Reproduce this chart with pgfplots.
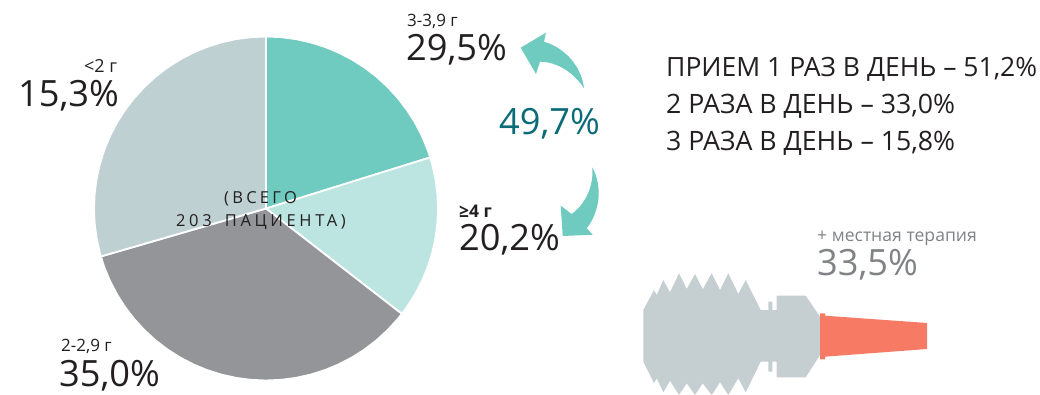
\documentclass[border=0pt]{standalone}
\usepackage{fontspec}
\setmainfont{Open Sans}
\usepackage{pgfplots}
\pgfplotsset{compat=1.18}
\usepgfplotslibrary{polar}
\definecolor{sTeal}{HTML}{6FCAC0}
\definecolor{sLight}{HTML}{BCE4E1}
\definecolor{sGrey}{HTML}{939598}
\definecolor{sPale}{HTML}{BFD0D3}
\definecolor{tube}{HTML}{C5CFD2}
\definecolor{tip}{HTML}{F77B64}
\definecolor{dTeal}{HTML}{0C6B78}
\definecolor{ink}{HTML}{231F20}
\definecolor{gText}{HTML}{808285}
\newcommand\fs[1]{\fontsize{#1}{#1}\selectfont}
\newcommand\lab[5]{\node[anchor=base west,inner sep=0pt,text=#4] at (axis cs:#1,#2) {\fs{#3}#5};}
\begin{document}
\begin{tikzpicture}[x=1pt,y=1pt]
\path[use as bounding box] (0,0) rectangle (1040,395);
% pie: values 20.2 / 15.3 / 35.0 / 29.5 (per cent), angles = 90 - 3.6*cumulative
\begin{polaraxis}[at={(266pt,186.5pt)},anchor=center,width=344pt,height=344pt,scale only axis,hide axis,clip=false,xmin=0,xmax=360,ymin=0,ymax=171]
\addplot[fill=sTeal,draw=white,line width=1.8pt] coordinates {(90,0)(90,171)(85,171)(80,171)(75,171)(70,171)(65,171)(60,171)(55,171)(50,171)(45,171)(40,171)(35,171)(30,171)(25,171)(20,171)(17.28,171)} -- cycle;
\addplot[fill=sLight,draw=white,line width=1.8pt] coordinates {(17.28,0)(17.28,171)(15,171)(10,171)(5,171)(0,171)(-5,171)(-10,171)(-15,171)(-20,171)(-25,171)(-30,171)(-35,171)(-37.8,171)} -- cycle;
\addplot[fill=sGrey,draw=white,line width=1.8pt] coordinates {(-37.8,0)(-37.8,171)(-40,171)(-45,171)(-50,171)(-55,171)(-60,171)(-65,171)(-70,171)(-75,171)(-80,171)(-85,171)(-90,171)(-95,171)(-100,171)(-105,171)(-110,171)(-115,171)(-120,171)(-125,171)(-130,171)(-135,171)(-140,171)(-145,171)(-150,171)(-155,171)(-160,171)(-163.8,171)} -- cycle;
\addplot[fill=sPale,draw=white,line width=1.8pt] coordinates {(-163.8,0)(-163.8,171)(-165,171)(-170,171)(-175,171)(-180,171)(-185,171)(-190,171)(-195,171)(-200,171)(-205,171)(-210,171)(-215,171)(-220,171)(-225,171)(-230,171)(-235,171)(-240,171)(-245,171)(-250,171)(-255,171)(-260,171)(-265,171)(-270,171)} -- cycle;
\end{polaraxis}
\begin{axis}[at={(0pt,0pt)},anchor=south west,width=1040pt,height=395pt,scale only axis,hide axis,clip=false,xmin=0,xmax=1040,ymin=0,ymax=395,y dir=reverse]
% tube
\addplot[fill=tube,draw=none] coordinates {(643.3,310)(654,290)(656.7,295)(663.3,280)(670,292.3)(679,273.3)(686.7,289)(695,274)(702.7,289.3)(711.7,273.3)(720,290)(728.3,273.3)(738.3,294)(745.7,280)(760.7,310)(768.3,310)(768.3,301.7)(772.3,301.7)(772.3,310)(776.7,310)(776.7,295.7)(805.7,295.7)(820,316.7)(820,355)(805.7,377.3)(776.7,377.3)(776.7,361.7)(772.3,361.7)(772.3,371.7)(768.3,371.7)(768.3,361.7)(760.7,361.7)(745.7,392.3)(738.3,378.3)(728.3,395)(720,382.3)(711.7,395)(702.7,383.3)(695,395)(686.7,383.3)(679,395)(670,380.7)(663.3,392.3)(656.7,378.3)(654,383.3)(643.3,361.7)} -- cycle;
\addplot[fill=tip,draw=none] coordinates {(820,313.3)(825,313.3)(825,315.7)(927,323)(927,349)(825,356.7)(825,359.3)(820,359.3)} -- cycle;
% arrows
\fill[sTeal] (axis cs:520.7,47.7) -- (axis cs:546,32.7) -- (axis cs:544,41.7) .. controls (axis cs:566,48) and (axis cs:582,68) .. (axis cs:584,88.3) .. controls (axis cs:574,73) and (axis cs:558,62) .. (axis cs:540,61.7) -- (axis cs:536,74) -- cycle;
\fill[sTeal] (axis cs:592.3,167.3) .. controls (axis cs:602,185) and (axis cs:601,210) .. (axis cs:586.7,228.3) -- (axis cs:592.7,234.7) -- (axis cs:562.7,236) -- (axis cs:560.7,205.7) -- (axis cs:571.7,214) .. controls (axis cs:584,205) and (axis cs:594,188) .. cycle;
% labels
\lab{407}{27}{17}{ink}{3-3,9 г}
\lab{406}{61}{36.2}{ink}{29,5\%}
\lab{84}{73}{18}{ink}{<2 г}
\lab{18}{107}{36.2}{ink}{15,3\%}
\lab{459}{218}{17.5}{ink}{\bfseries ≥4 г}
\lab{459}{251}{36.2}{ink}{20,2\%}
\lab{61}{351}{17}{ink}{2-2,9 г}
\lab{59}{386}{36.2}{ink}{35,0\%}
\lab{499}{135}{36.2}{dTeal}{49,7\%}
\lab{666}{77}{26.5}{ink}{ПРИЕМ 1 РАЗ В ДЕНЬ – 51,2\%}
\lab{666}{114}{26.7}{ink}{2 РАЗА В ДЕНЬ – 33,0\%}
\lab{666}{151}{26.7}{ink}{3 РАЗА В ДЕНЬ – 15,8\%}
\lab{817}{241}{17.6}{gText}{+ местная терапия}
\lab{817}{275}{36.2}{gText}{33,5\%}
\node[anchor=base,inner sep=0pt,text=ink] at (axis cs:260.5,204) {\fs{16.5}\addfontfeature{LetterSpace=20}(ВСЕГО};
\node[anchor=base,inner sep=0pt,text=ink] at (axis cs:261,226) {\fs{16.5}\addfontfeature{LetterSpace=22}203\hspace{0.8em}ПАЦИЕНТА)};
\end{axis}
\end{tikzpicture}
\end{document}
